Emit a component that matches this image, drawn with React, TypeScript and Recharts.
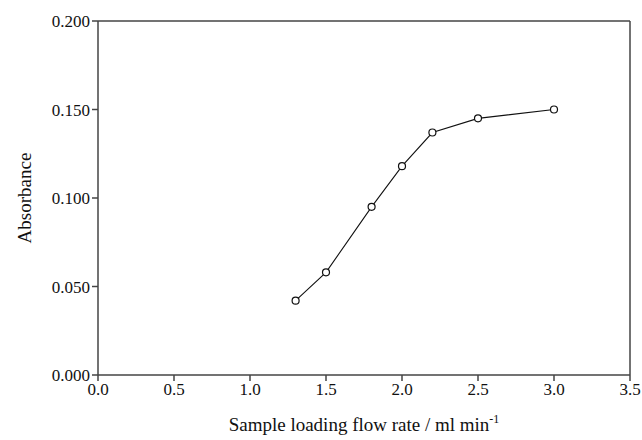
import { LineChart, Line, XAxis, YAxis, ReferenceLine, Label } from "recharts";

const flowRates = [1.3, 1.5, 1.8, 2.0, 2.2, 2.5, 3.0];
const absorbance = [0.042, 0.058, 0.095, 0.118, 0.137, 0.145, 0.15];
const xTicks = [0, 0.5, 1.0, 1.5, 2.0, 2.5, 3.0, 3.5];
const yTicks = [0, 0.05, 0.1, 0.15, 0.2];

const data = flowRates.map((x, i) => ({ x, y: absorbance[i] }));

const font = "'Liberation Serif', 'Times New Roman', serif";
const axisColor = "#444";

function XTitle(props: any) {
  const vb = props.viewBox || {};
  const cx = vb.x + vb.width / 2;
  return (
    <text
      x={cx}
      y={vb.y + 56}
      textAnchor="middle"
      fontFamily={font}
      fontSize={19}
      fill="#111"
    >
      Sample loading flow rate / ml min
      <tspan dy={-8} fontSize={12}>
        -1
      </tspan>
    </text>
  );
}

export default function App() {
  return (
    <div style={{ position: "absolute", left: 0, top: 0, background: "#fff" }}>
      <LineChart
        width={642}
        height={440}
        data={data}
        margin={{ top: 21, right: 12, bottom: 5, left: 28 }}
      >
        <XAxis
          type="number"
          dataKey="x"
          domain={[0, 3.5]}
          ticks={xTicks}
          tickFormatter={(v: number) => v.toFixed(1)}
          stroke={axisColor}
          strokeWidth={1.5}
          tickSize={6}
          height={60}
          tick={{ fill: "#111", fontFamily: font, fontSize: 17 }}
          allowDataOverflow
        >
          <Label content={<XTitle />} />
        </XAxis>
        <YAxis
          type="number"
          domain={[0, 0.2]}
          ticks={yTicks}
          tickFormatter={(v: number) => v.toFixed(3)}
          stroke={axisColor}
          strokeWidth={1.5}
          tickSize={6}
          width={70}
          tick={{ fill: "#111", fontFamily: font, fontSize: 17 }}
        >
          <Label
            value="Absorbance"
            angle={-90}
            position="insideLeft"
            offset={-4}
            style={{ fontFamily: font, fontSize: 19, fill: "#111", textAnchor: "middle" }}
          />
        </YAxis>
        <ReferenceLine y={0.2} stroke={axisColor} strokeWidth={1.5} />
        <ReferenceLine x={3.5} stroke={axisColor} strokeWidth={1.5} />
        <Line
          type="linear"
          dataKey="y"
          stroke="#111"
          strokeWidth={1.1}
          dot={{ r: 3.5, fill: "#fff", stroke: "#111", strokeWidth: 1.2 }}
          isAnimationActive={false}
        />
      </LineChart>
    </div>
  );
}
